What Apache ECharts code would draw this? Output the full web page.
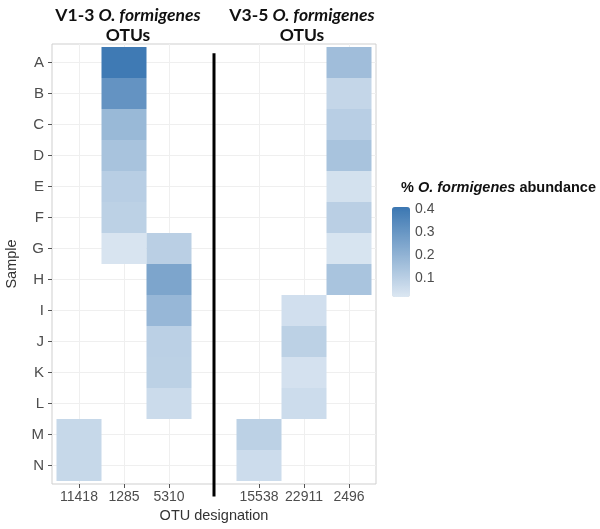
<!DOCTYPE html>
<html>
<head>
<meta charset="utf-8">
<script src="https://cdn.jsdelivr.net/npm/echarts@6/dist/echarts.min.js"></script>
<style>
  html, body { margin: 0; padding: 0; background: #fff; }
  #chart { width: 600px; height: 529px; }
</style>
</head>
<body>
<div id="chart"></div>
<script>
// x slots: index 3 is the empty gap where the divider sits
var otus = ['11418', '1285', '5310', '', '15538', '22911', '2496'];
var samples = ['A', 'B', 'C', 'D', 'E', 'F', 'G', 'H', 'I', 'J', 'K', 'L', 'M', 'N'];
var legendTicks = [0.1, 0.2, 0.3, 0.4];

// abundance per OTU, one value per sample (null = not detected)
var otu11418 = [null, null, null, null, null, null, null, null, null, null, null, null, 0.07, 0.07];
var otu1285  = [0.40, 0.31, 0.18, 0.145, 0.105, 0.095, 0.027, null, null, null, null, null, null, null];
var otu5310  = [null, null, null, null, null, null, 0.10, 0.25, 0.185, 0.098, 0.095, 0.058, null, null];
var otu15538 = [null, null, null, null, null, null, null, null, null, null, null, null, 0.095, 0.056];
var otu22911 = [null, null, null, null, null, null, null, null, 0.044, 0.095, 0.037, 0.056, null, null];
var otu2496  = [0.163, 0.076, 0.105, 0.144, 0.039, 0.10, 0.029, 0.141, null, null, null, null, null, null];

var columns = [otu11418, otu1285, otu5310, null, otu15538, otu22911, otu2496];
var cells = [];
columns.forEach(function (col, xi) {
  if (!col) return;
  col.forEach(function (v, yi) {
    if (v != null) cells.push([xi, yi, v]);
  });
});

var xIdx = [0, 1, 2, 4, 5, 6];
var yIdx = samples.map(function (s, i) { return i; });

var boldRich = function (size) {
  return {
    b: { fontFamily: 'Lato', fontWeight: 'bold', fontSize: size, color: '#111', lineHeight: 20 },
    bi: { fontFamily: 'Lato', fontWeight: 'bold', fontStyle: 'italic', fontSize: size, color: '#111', lineHeight: 20 }
  };
};

var chart = echarts.init(document.getElementById('chart'));
var option = {
  backgroundColor: '#fff',
  animation: false,
  title: [{
    left: 123, top: 0, textAlign: 'center',
    text: '{b|V1-3 }{bi|O. formigenes}\n{b|OTUs}',
    textStyle: { lineHeight: 20, rich: boldRich(17.5) }
  }, {
    left: 297, top: 0, textAlign: 'center',
    text: '{b|V3-5 }{bi|O. formigenes}\n{b|OTUs}',
    textStyle: { lineHeight: 20, rich: boldRich(17.5) }
  }, {
    left: 396, top: 175,
    text: '{b|% }{bi|O. formigenes}{b| abundance}',
    textStyle: {
      rich: {
        b: { fontFamily: 'Liberation Sans', fontWeight: 'bold', fontSize: 14.5, color: '#111' },
        bi: { fontFamily: 'Liberation Sans', fontWeight: 'bold', fontStyle: 'italic', fontSize: 14.5, color: '#111' }
      }
    }
  }],
  grid: [{
    left: 52, right: 224, top: 44, bottom: 45, outerBoundsMode: 'none',
    show: true, borderColor: '#cfcfcf', borderWidth: 1, backgroundColor: '#fff'
  }, {
    left: 392, top: 207, width: 18, height: 90, outerBoundsMode: 'none'
  }],
  xAxis: [{
    type: 'value', gridIndex: 0, min: -0.6, max: 6.6,
    name: 'OTU designation', nameLocation: 'middle', nameGap: 24,
    nameTextStyle: { fontFamily: 'Liberation Sans', fontSize: 14.5, color: '#333' },
    axisLine: { show: false, onZero: false },
    axisTick: { show: true, customValues: xIdx, length: 4, lineStyle: { color: '#555' } },
    axisLabel: {
      customValues: xIdx, margin: 6,
      fontFamily: 'Liberation Sans', fontSize: 14, color: '#4d4d4d',
      formatter: function (v) { return otus[Math.round(v)]; }
    },
    splitLine: { show: true, lineStyle: { color: '#efefef', width: 1 } }
  }, {
    type: 'value', gridIndex: 1, show: false, min: 0, max: 1
  }],
  yAxis: [{
    type: 'value', gridIndex: 0, min: -0.6, max: 13.6, inverse: true,
    name: 'Sample', nameLocation: 'middle', nameGap: 33, nameRotate: 90,
    nameTextStyle: { fontFamily: 'Liberation Sans', fontSize: 14.5, color: '#333' },
    axisLine: { show: false, onZero: false },
    axisTick: { show: true, customValues: yIdx, length: 4, lineStyle: { color: '#555' } },
    axisLabel: {
      customValues: yIdx, margin: 8,
      fontFamily: 'Liberation Sans', fontSize: 15, color: '#4d4d4d',
      formatter: function (v) { return samples[Math.round(v)]; }
    },
    splitLine: { show: true, lineStyle: { color: '#efefef', width: 1 } }
  }, {
    type: 'value', gridIndex: 1, min: 0.017, max: 0.41, position: 'right',
    axisLine: { show: false, onZero: false },
    axisTick: { show: false },
    splitLine: { show: false },
    axisLabel: {
      customValues: legendTicks, margin: 5,
      fontFamily: 'Liberation Sans', fontSize: 14, color: '#4d4d4d',
      formatter: function (v) { return v.toFixed(1); }
    }
  }],
  visualMap: {
    type: 'continuous', seriesIndex: 0, dimension: 2,
    min: 0.017, max: 0.41, calculable: false,
    left: 392, top: 207, itemWidth: 18, itemHeight: 90, padding: 0,
    text: null, showLabel: false,
    inRange: { color: ['#dce7f2', '#3b77b2'] }
  },
  series: [{
    type: 'custom',
    xAxisIndex: 0, yAxisIndex: 0,
    data: cells,
    encode: { x: 0, y: 1 },
    renderItem: function (params, api) {
      var p0 = api.coord([api.value(0) - 0.5, api.value(1) - 0.5]);
      var p1 = api.coord([api.value(0) + 0.5, api.value(1) + 0.5]);
      return {
        type: 'rect',
        shape: {
          x: Math.min(p0[0], p1[0]), y: Math.min(p0[1], p1[1]),
          width: Math.abs(p1[0] - p0[0]), height: Math.abs(p1[1] - p0[1])
        },
        style: { fill: api.visual('color') }
      };
    }
  }]
};
chart.setOption(option);

// divider between the two OTU groups, placed through the axis scale
var divTop = chart.convertToPixel({ gridIndex: 0 }, [3, -0.3]);
var divBot = chart.convertToPixel({ gridIndex: 0 }, [3, 14.0]);
chart.setOption({
  graphic: [{
    type: 'line', z: 100,
    shape: { x1: divTop[0], y1: divTop[1], x2: divBot[0], y2: divBot[1] },
    style: { stroke: '#000', lineWidth: 3 }
  }]
});
</script>
</body>
</html>
